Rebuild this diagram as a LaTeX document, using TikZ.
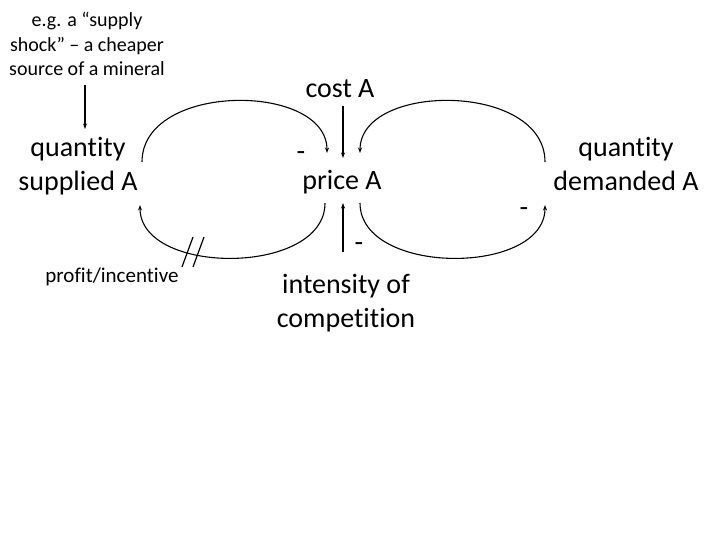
\documentclass[tikz,border=0pt]{standalone}
\usepackage{fontspec}
\setmainfont{Carlito}[RawFeature={-liga;-clig;-dlig}]
\usetikzlibrary{arrows.meta}
\tikzset{
  lbl/.style={inner sep=0pt, align=center, anchor=base, font=\fontsize{28}{34}\selectfont},
  smalllbl/.style={inner sep=0pt, align=center, anchor=base, font=\fontsize{20}{24.5}\selectfont},
  midlbl/.style={inner sep=0pt, anchor=base, font=\fontsize{21}{25}\selectfont},
  sign/.style={inner sep=0pt, font=\fontsize{28}{34}\selectfont},
  link/.style={line width=1.1pt, -{Stealth[length=5.5pt,width=4pt]}},
  plain/.style={line width=1.2pt},
}
\begin{document}
\begin{tikzpicture}[x=1pt,y=-1pt]
\useasboundingbox (0,0) rectangle (720,540);
% labels (anchor=base: multi-line nodes sit on their last line)
\node[smalllbl] (shock) at (87,76) {e.g. a “supply\\shock” – a cheaper\\source of a mineral};
\node[lbl] (qs) at (78,191) {quantity\\supplied A};
\node[lbl] (cost) at (340,98) {cost A};
\node[lbl] (price) at (342,190) {price A};
\node[lbl] (qd) at (626,191) {quantity\\demanded A};
\node[midlbl] (profit) at (112,282) {profit/incentive};
\node[lbl] (comp) at (346,327) {intensity of\\competition};
% signs
\node[sign] (s1) at (301,156) {-};
\node[sign] (s2) at (359,247) {-};
\node[sign] (s3) at (524,212) {-};
% connector end points
\coordinate (shockEnd) at (85,85);
\coordinate (qsIn) at (85,129);
\coordinate (costOut) at (343,106);
\coordinate (priceInTop) at (343,158);
\coordinate (compOut) at (343,252);
\coordinate (priceInBot) at (343,203);
\coordinate (qsTop) at (142,162);
\coordinate (priceTL) at (327,153);
\coordinate (priceBL) at (325,203);
\coordinate (qsBot) at (140,205);
\coordinate (qdTop) at (545,162);
\coordinate (priceTR) at (360,153);
\coordinate (priceBR) at (360,203);
\coordinate (qdBot) at (545,205);
% straight arrows
\draw[link] (shockEnd) -- (qsIn);
\draw[link] (costOut) -- (priceInTop);
\draw[link] (compOut) -- (priceInBot);
% loops
\draw[link] (qsTop) .. controls (142,82) and (327,82) .. (priceTL);
\draw[link] (priceBL) .. controls (325,276) and (140,276) .. (qsBot);
\draw[link] (qdTop) .. controls (545,82) and (360,82) .. (priceTR);
\draw[link] (priceBR) .. controls (360,276) and (545,276) .. (qdBot);
% delay mark
\draw[plain] (182,267) -- (193,237);
\draw[plain] (193,267) -- (204,237);
\end{tikzpicture}
\end{document}
